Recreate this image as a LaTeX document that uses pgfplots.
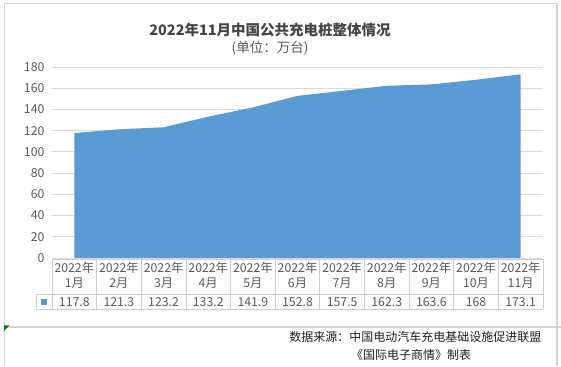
\documentclass[border=0pt]{standalone}
\usepackage{pgfplots}
\pgfplotsset{compat=1.18}
\usepackage{fontspec}
\setmainfont{Noto Sans CJK SC}
\definecolor{areablue}{RGB}{91,155,213}
\definecolor{txtgray}{RGB}{89,89,89}
\definecolor{gridgray}{RGB}{217,217,217}
\definecolor{framegray}{RGB}{212,212,212}
\definecolor{tabgray}{RGB}{205,205,205}
\begin{document}
\begin{tikzpicture}[x=1pt,y=1pt]
\path[use as bounding box] (0,0) rectangle (561,366);
% outer frame
\draw[framegray, line width=1.6pt] (4.5,0) -- (4.5,363);
\draw[framegray, line width=1.6pt] (557,0) -- (557,363);
\draw[framegray, line width=0.9pt] (4.5,363) -- (557,363);
\draw[framegray, line width=1.2pt] (4.5,39) -- (561,39);
\fill[green!45!black] (4,40.5) -- (9.5,40.5) -- (4,35) -- cycle;
\begin{axis}[
  at={(52pt,108pt)}, anchor=south west,
  scale only axis, width=491pt, height=191pt,
  xmin=-0.5, xmax=10.5, ymin=0, ymax=180,
  ytick={0,20,...,180},
  xtick={0,...,10},
  xticklabels={{2022年\\1月\\[4.5pt]117.8},{2022年\\2月\\[4.5pt]121.3},{2022年\\3月\\[4.5pt]123.2},{2022年\\4月\\[4.5pt]133.2},{2022年\\5月\\[4.5pt]141.9},{2022年\\6月\\[4.5pt]152.8},{2022年\\7月\\[4.5pt]157.5},{2022年\\8月\\[4.5pt]162.3},{2022年\\9月\\[4.5pt]163.6},{2022年\\10月\\[4.5pt]168},{2022年\\11月\\[4.5pt]173.1}},
  xticklabel style={align=center, font=\fontsize{12.3}{14.5}\selectfont, text=txtgray, yshift=-1pt},
  yticklabel style={font=\fontsize{12.3}{14}\selectfont, text=txtgray, xshift=-4pt},
  /pgf/number format/assume math mode=true,
  axis line style={draw=none},
  major tick length=0pt,
  ymajorgrids, grid style={gridgray, line width=0.8pt},
  clip=false,
]
\addplot[fill=areablue, draw=none] coordinates {
  (0,117.8) (1,121.3) (2,123.2) (3,133.2) (4,141.9) (5,152.8)
  (6,157.5) (7,162.3) (8,163.6) (9,168) (10,173.1)
} \closedcycle;
\end{axis}
% data table grid
\draw[tabgray, line width=0.7pt] (52,107) -- (543,107);
\draw[tabgray, line width=0.7pt] (36,72) -- (543,72);
\draw[tabgray, line width=0.7pt] (36,57) -- (543,57);
\draw[tabgray, line width=0.7pt] (36,57) -- (36,72);
\foreach \i in {0,...,11} {
  \draw[tabgray, line width=0.7pt] ({52+\i*44.636},57) -- ({52+\i*44.636},107);
}
\fill[areablue] (41,61) rectangle (47,67);
% titles
\node[text={rgb,255:red,70;green,70;blue,70}, font=\fontsize{14.5}{17}\selectfont\bfseries] at (270,336) {2022年11月中国公共充电桩整体情况};
\node[text=txtgray, font=\fontsize{13.5}{15}\selectfont] at (270,318) {(单位：万台)};
% source
\node[anchor=east, text={rgb,255:red,30;green,30;blue,30}, font=\fontsize{12}{14}\selectfont] at (545,29) {数据来源：中国电动汽车充电基础设施促进联盟};
\node[text={rgb,255:red,30;green,30;blue,30}, font=\fontsize{12}{14}\selectfont] at (411,11) {《国际电子商情》制表};
\end{tikzpicture}
\end{document}
